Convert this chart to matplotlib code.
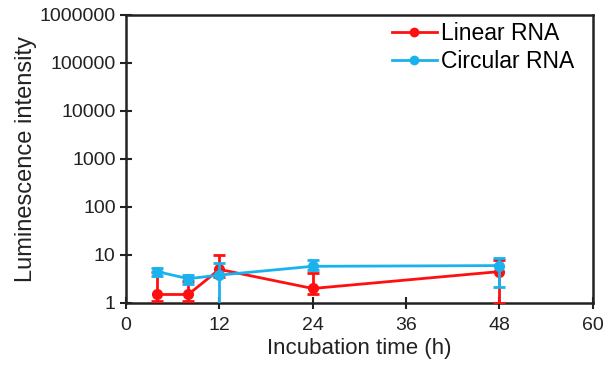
import matplotlib
matplotlib.use("Agg")
import matplotlib.pyplot as plt
from matplotlib.lines import Line2D

plt.rcParams['font.family'] = ['Liberation Sans', 'DejaVu Sans']

# Incubation times (h)
time_h = [4, 8, 12, 24, 48]

# Linear RNA: mean luminescence with lower / upper error
linear_mean = [1.5, 1.5, 5.0, 2.0, 4.5]
linear_err_lo = [0.4, 0.4, 1.5, 0.5, 3.5]
linear_err_hi = [2.9, 1.3, 5.0, 2.2, 3.5]

# Circular RNA: mean luminescence with lower / upper error
circular_mean = [4.5, 3.2, 3.8, 5.8, 6.0]
circular_err_lo = [0.8, 0.7, 3.0, 1.0, 3.8]
circular_err_hi = [0.8, 0.6, 3.1, 2.0, 2.6]

x_ticks = [0, 12, 24, 36, 48, 60]
y_ticks = [1, 10, 100, 1000, 10000, 100000, 1000000]

red = '#FF1010'
blue = '#1AB2EC'
ink = '#222222'

fig = plt.figure(figsize=(6.06, 3.74), dpi=100)
ax = fig.add_axes([0.208, 0.19, 0.770, 0.770])

ax.errorbar(time_h, linear_mean, yerr=[linear_err_lo, linear_err_hi],
            color=red, marker='o', markersize=7, linewidth=2,
            elinewidth=2, capsize=4, capthick=2, zorder=3)
ax.errorbar(time_h, circular_mean, yerr=[circular_err_lo, circular_err_hi],
            color=blue, marker='o', markersize=7, linewidth=2,
            elinewidth=2, capsize=4, capthick=2, zorder=4)

ax.set_yscale('log')
ax.set_xlim(0, 60)
ax.set_ylim(1, 1000000)
ax.set_xticks(x_ticks)
ax.set_xticklabels([str(v) for v in x_ticks])
ax.set_yticks(y_ticks)
ax.set_yticklabels([str(v) for v in y_ticks])
ax.yaxis.set_minor_locator(matplotlib.ticker.NullLocator())

ax.tick_params(axis='both', which='major', direction='inout', length=8,
               width=1.5, labelsize=14, color=ink, labelcolor=ink)
ax.tick_params(axis='x', pad=6)
ax.tick_params(axis='y', left=True, right=False)
ax.tick_params(axis='x', bottom=True, top=False)
for sp in ax.spines.values():
    sp.set_linewidth(1.8)
    sp.set_color(ink)

ax.set_xlabel('Incubation time (h)', fontsize=16, color=ink, labelpad=3)
ax.set_ylabel('Luminescence intensity', fontsize=17, color=ink, labelpad=2)

handles = [
    Line2D([], [], color=red, marker='o', markersize=6, linewidth=2),
    Line2D([], [], color=blue, marker='o', markersize=6, linewidth=2),
]
ax.legend(handles, ['Linear RNA', 'Circular RNA'], loc='upper right',
          bbox_to_anchor=(0.965, 0.983),
          frameon=False, fontsize=16.5, handlelength=2.0, handletextpad=0.15,
          borderaxespad=0.0, borderpad=0.1, labelspacing=0.22)

fig.savefig('out.png', dpi=100, facecolor='white')
